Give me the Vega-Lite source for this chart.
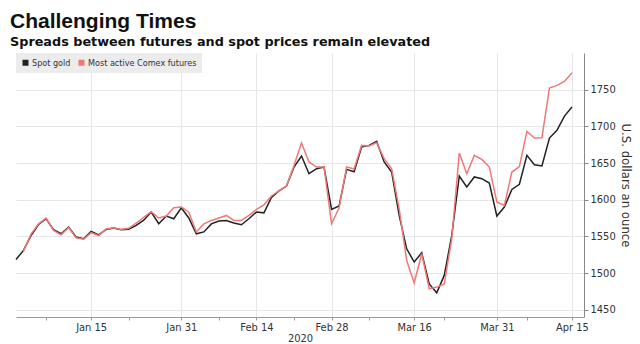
{
  "$schema": "https://vega.github.io/schema/vega-lite/v6.json",
  "width": 568,
  "height": 264,
  "autosize": {"type": "none"},
  "padding": {"left": 16, "top": 53, "right": 56, "bottom": 27},
  "background": "white",
  "config": {
    "view": {"stroke": null},
    "font": "DejaVu Sans Condensed",
    "axis": {"labelFont": "DejaVu Sans Condensed", "titleFont": "DejaVu Sans Condensed"}
  },
  "title": {
    "text": "Challenging Times",
    "subtitle": "Spreads between futures and spot prices remain elevated",
    "anchor": "start",
    "dx": -3,
    "offset": 4,
    "font": "Liberation Sans",
    "fontSize": 21,
    "fontWeight": "bold",
    "color": "#111111",
    "subtitleFont": "DejaVu Sans",
    "subtitleFontSize": 12.8,
    "subtitleFontWeight": "bold",
    "subtitleColor": "#111111",
    "subtitlePadding": 4
  },
  "data": {
    "values": [
      {"date": "2020-01-01", "series": "Spot gold", "price": 1518.5},
      {"date": "2020-01-02", "series": "Spot gold", "price": 1530.8},
      {"date": "2020-01-03", "series": "Spot gold", "price": 1551.2},
      {"date": "2020-01-06", "series": "Spot gold", "price": 1566.2},
      {"date": "2020-01-07", "series": "Spot gold", "price": 1574},
      {"date": "2020-01-08", "series": "Spot gold", "price": 1559},
      {"date": "2020-01-09", "series": "Spot gold", "price": 1553.5},
      {"date": "2020-01-10", "series": "Spot gold", "price": 1562.7},
      {"date": "2020-01-13", "series": "Spot gold", "price": 1549},
      {"date": "2020-01-14", "series": "Spot gold", "price": 1546.7},
      {"date": "2020-01-15", "series": "Spot gold", "price": 1556.7},
      {"date": "2020-01-16", "series": "Spot gold", "price": 1552},
      {"date": "2020-01-17", "series": "Spot gold", "price": 1559.4},
      {"date": "2020-01-20", "series": "Spot gold", "price": 1561.3},
      {"date": "2020-01-21", "series": "Spot gold", "price": 1559},
      {"date": "2020-01-22", "series": "Spot gold", "price": 1559.7},
      {"date": "2020-01-23", "series": "Spot gold", "price": 1565},
      {"date": "2020-01-24", "series": "Spot gold", "price": 1572},
      {"date": "2020-01-27", "series": "Spot gold", "price": 1583.2},
      {"date": "2020-01-28", "series": "Spot gold", "price": 1567.2},
      {"date": "2020-01-29", "series": "Spot gold", "price": 1577.7},
      {"date": "2020-01-30", "series": "Spot gold", "price": 1574},
      {"date": "2020-01-31", "series": "Spot gold", "price": 1589},
      {"date": "2020-02-03", "series": "Spot gold", "price": 1575},
      {"date": "2020-02-04", "series": "Spot gold", "price": 1553.5},
      {"date": "2020-02-05", "series": "Spot gold", "price": 1556},
      {"date": "2020-02-06", "series": "Spot gold", "price": 1567},
      {"date": "2020-02-07", "series": "Spot gold", "price": 1571},
      {"date": "2020-02-10", "series": "Spot gold", "price": 1571.7},
      {"date": "2020-02-11", "series": "Spot gold", "price": 1568.2},
      {"date": "2020-02-12", "series": "Spot gold", "price": 1565.8},
      {"date": "2020-02-13", "series": "Spot gold", "price": 1574},
      {"date": "2020-02-14", "series": "Spot gold", "price": 1583.2},
      {"date": "2020-02-17", "series": "Spot gold", "price": 1582},
      {"date": "2020-02-18", "series": "Spot gold", "price": 1603},
      {"date": "2020-02-19", "series": "Spot gold", "price": 1612},
      {"date": "2020-02-20", "series": "Spot gold", "price": 1618.6},
      {"date": "2020-02-21", "series": "Spot gold", "price": 1644.5},
      {"date": "2020-02-24", "series": "Spot gold", "price": 1659.5},
      {"date": "2020-02-25", "series": "Spot gold", "price": 1635.4},
      {"date": "2020-02-26", "series": "Spot gold", "price": 1642.2},
      {"date": "2020-02-27", "series": "Spot gold", "price": 1644.5},
      {"date": "2020-02-28", "series": "Spot gold", "price": 1586.7},
      {"date": "2020-03-02", "series": "Spot gold", "price": 1591.3},
      {"date": "2020-03-03", "series": "Spot gold", "price": 1641.3},
      {"date": "2020-03-04", "series": "Spot gold", "price": 1638},
      {"date": "2020-03-05", "series": "Spot gold", "price": 1671.8},
      {"date": "2020-03-06", "series": "Spot gold", "price": 1674},
      {"date": "2020-03-09", "series": "Spot gold", "price": 1679.5},
      {"date": "2020-03-10", "series": "Spot gold", "price": 1651.4},
      {"date": "2020-03-11", "series": "Spot gold", "price": 1637.7},
      {"date": "2020-03-12", "series": "Spot gold", "price": 1578.5},
      {"date": "2020-03-13", "series": "Spot gold", "price": 1533},
      {"date": "2020-03-16", "series": "Spot gold", "price": 1515},
      {"date": "2020-03-17", "series": "Spot gold", "price": 1527.6},
      {"date": "2020-03-18", "series": "Spot gold", "price": 1485},
      {"date": "2020-03-19", "series": "Spot gold", "price": 1473},
      {"date": "2020-03-20", "series": "Spot gold", "price": 1496.7},
      {"date": "2020-03-23", "series": "Spot gold", "price": 1551.2},
      {"date": "2020-03-24", "series": "Spot gold", "price": 1632.3},
      {"date": "2020-03-25", "series": "Spot gold", "price": 1617.3},
      {"date": "2020-03-26", "series": "Spot gold", "price": 1631},
      {"date": "2020-03-27", "series": "Spot gold", "price": 1628.6},
      {"date": "2020-03-30", "series": "Spot gold", "price": 1622.7},
      {"date": "2020-03-31", "series": "Spot gold", "price": 1577.7},
      {"date": "2020-04-01", "series": "Spot gold", "price": 1590},
      {"date": "2020-04-02", "series": "Spot gold", "price": 1614},
      {"date": "2020-04-03", "series": "Spot gold", "price": 1621},
      {"date": "2020-04-06", "series": "Spot gold", "price": 1660.4},
      {"date": "2020-04-07", "series": "Spot gold", "price": 1647.7},
      {"date": "2020-04-08", "series": "Spot gold", "price": 1646},
      {"date": "2020-04-09", "series": "Spot gold", "price": 1684},
      {"date": "2020-04-13", "series": "Spot gold", "price": 1694.5},
      {"date": "2020-04-14", "series": "Spot gold", "price": 1714},
      {"date": "2020-04-15", "series": "Spot gold", "price": 1726.4},
      {"date": "2020-01-02", "series": "Most active Comex futures", "price": 1530},
      {"date": "2020-01-03", "series": "Most active Comex futures", "price": 1553},
      {"date": "2020-01-06", "series": "Most active Comex futures", "price": 1567},
      {"date": "2020-01-07", "series": "Most active Comex futures", "price": 1575},
      {"date": "2020-01-08", "series": "Most active Comex futures", "price": 1558},
      {"date": "2020-01-09", "series": "Most active Comex futures", "price": 1552},
      {"date": "2020-01-10", "series": "Most active Comex futures", "price": 1562},
      {"date": "2020-01-13", "series": "Most active Comex futures", "price": 1548},
      {"date": "2020-01-14", "series": "Most active Comex futures", "price": 1546},
      {"date": "2020-01-15", "series": "Most active Comex futures", "price": 1555},
      {"date": "2020-01-16", "series": "Most active Comex futures", "price": 1551},
      {"date": "2020-01-17", "series": "Most active Comex futures", "price": 1560},
      {"date": "2020-01-20", "series": "Most active Comex futures", "price": 1561.7},
      {"date": "2020-01-21", "series": "Most active Comex futures", "price": 1559.5},
      {"date": "2020-01-22", "series": "Most active Comex futures", "price": 1561},
      {"date": "2020-01-23", "series": "Most active Comex futures", "price": 1568},
      {"date": "2020-01-24", "series": "Most active Comex futures", "price": 1576},
      {"date": "2020-01-27", "series": "Most active Comex futures", "price": 1583.5},
      {"date": "2020-01-28", "series": "Most active Comex futures", "price": 1575},
      {"date": "2020-01-29", "series": "Most active Comex futures", "price": 1577.7},
      {"date": "2020-01-30", "series": "Most active Comex futures", "price": 1589},
      {"date": "2020-01-31", "series": "Most active Comex futures", "price": 1590},
      {"date": "2020-02-03", "series": "Most active Comex futures", "price": 1583},
      {"date": "2020-02-04", "series": "Most active Comex futures", "price": 1556},
      {"date": "2020-02-05", "series": "Most active Comex futures", "price": 1567},
      {"date": "2020-02-06", "series": "Most active Comex futures", "price": 1571.7},
      {"date": "2020-02-07", "series": "Most active Comex futures", "price": 1575},
      {"date": "2020-02-10", "series": "Most active Comex futures", "price": 1578.5},
      {"date": "2020-02-11", "series": "Most active Comex futures", "price": 1571.7},
      {"date": "2020-02-12", "series": "Most active Comex futures", "price": 1571.7},
      {"date": "2020-02-13", "series": "Most active Comex futures", "price": 1578.5},
      {"date": "2020-02-14", "series": "Most active Comex futures", "price": 1586.7},
      {"date": "2020-02-17", "series": "Most active Comex futures", "price": 1593},
      {"date": "2020-02-18", "series": "Most active Comex futures", "price": 1605},
      {"date": "2020-02-19", "series": "Most active Comex futures", "price": 1612},
      {"date": "2020-02-20", "series": "Most active Comex futures", "price": 1618.6},
      {"date": "2020-02-21", "series": "Most active Comex futures", "price": 1646.7},
      {"date": "2020-02-24", "series": "Most active Comex futures", "price": 1677.3},
      {"date": "2020-02-25", "series": "Most active Comex futures", "price": 1651.4},
      {"date": "2020-02-26", "series": "Most active Comex futures", "price": 1644.5},
      {"date": "2020-02-27", "series": "Most active Comex futures", "price": 1644.5},
      {"date": "2020-02-28", "series": "Most active Comex futures", "price": 1567.2},
      {"date": "2020-03-02", "series": "Most active Comex futures", "price": 1588.6},
      {"date": "2020-03-03", "series": "Most active Comex futures", "price": 1644.5},
      {"date": "2020-03-04", "series": "Most active Comex futures", "price": 1642},
      {"date": "2020-03-05", "series": "Most active Comex futures", "price": 1674},
      {"date": "2020-03-06", "series": "Most active Comex futures", "price": 1673.2},
      {"date": "2020-03-09", "series": "Most active Comex futures", "price": 1677.7},
      {"date": "2020-03-10", "series": "Most active Comex futures", "price": 1655.9},
      {"date": "2020-03-11", "series": "Most active Comex futures", "price": 1642.2},
      {"date": "2020-03-12", "series": "Most active Comex futures", "price": 1587.6},
      {"date": "2020-03-13", "series": "Most active Comex futures", "price": 1517},
      {"date": "2020-03-16", "series": "Most active Comex futures", "price": 1486.7},
      {"date": "2020-03-17", "series": "Most active Comex futures", "price": 1526.3},
      {"date": "2020-03-18", "series": "Most active Comex futures", "price": 1478.5},
      {"date": "2020-03-19", "series": "Most active Comex futures", "price": 1480.8},
      {"date": "2020-03-20", "series": "Most active Comex futures", "price": 1485},
      {"date": "2020-03-23", "series": "Most active Comex futures", "price": 1546.7},
      {"date": "2020-03-24", "series": "Most active Comex futures", "price": 1663.6},
      {"date": "2020-03-25", "series": "Most active Comex futures", "price": 1635.4},
      {"date": "2020-03-26", "series": "Most active Comex futures", "price": 1660.4},
      {"date": "2020-03-27", "series": "Most active Comex futures", "price": 1654.9},
      {"date": "2020-03-30", "series": "Most active Comex futures", "price": 1644.5},
      {"date": "2020-03-31", "series": "Most active Comex futures", "price": 1596.8},
      {"date": "2020-04-01", "series": "Most active Comex futures", "price": 1592.2},
      {"date": "2020-04-02", "series": "Most active Comex futures", "price": 1637.7},
      {"date": "2020-04-03", "series": "Most active Comex futures", "price": 1645},
      {"date": "2020-04-06", "series": "Most active Comex futures", "price": 1693},
      {"date": "2020-04-07", "series": "Most active Comex futures", "price": 1684},
      {"date": "2020-04-08", "series": "Most active Comex futures", "price": 1684.5},
      {"date": "2020-04-09", "series": "Most active Comex futures", "price": 1752.3},
      {"date": "2020-04-13", "series": "Most active Comex futures", "price": 1755.9},
      {"date": "2020-04-14", "series": "Most active Comex futures", "price": 1761.3},
      {"date": "2020-04-15", "series": "Most active Comex futures", "price": 1773}
    ]
  },
  "mark": {"type": "line", "strokeWidth": 1.5, "interpolate": "linear"},
  "encoding": {
    "x": {
      "field": "date",
      "type": "ordinal",
      "scale": {"type": "point", "padding": 0.8, "align": 0},
      "axis": {
        "values": ["2020-01-07", "2020-01-15", "2020-01-22", "2020-01-31", "2020-02-07", "2020-02-14", "2020-02-21", "2020-02-28", "2020-03-06", "2020-03-16", "2020-03-20", "2020-03-31", "2020-04-06", "2020-04-15"],
        "labelExpr": "indexof(['2020-01-15','2020-01-31','2020-02-14','2020-02-28','2020-03-16','2020-03-31','2020-04-15'], datum.value) >= 0 ? utcFormat(toDate(datum.value), '%b %d') : ''",
        "labelAngle": 0,
        "labelFontSize": 11,
        "labelColor": "#333333",
        "labelPadding": 1,
        "grid": true,
        "gridColor": "#e6e6e6",
        "gridOpacity": {"condition": {"test": "indexof(['2020-01-15','2020-01-31','2020-02-14','2020-02-28','2020-03-16','2020-03-31','2020-04-15'], datum.value) >= 0", "value": 1}, "value": 0},
        "domainColor": "#999999",
        "tickColor": "#999999",
        "tickSize": 3,
        "title": "2020",
        "titleFontSize": 11,
        "titleFontWeight": "normal",
        "titleColor": "#333333",
        "titlePadding": 0
      }
    },
    "y": {
      "field": "price",
      "type": "quantitative",
      "scale": {"domain": [1440, 1800], "nice": false, "zero": false},
      "axis": {
        "orient": "right",
        "values": [1450, 1500, 1550, 1600, 1650, 1700, 1750],
        "format": "d",
        "labelFontSize": 11,
        "labelColor": "#333333",
        "labelPadding": 2,
        "gridColor": "#e6e6e6",
        "domainColor": "#888888",
        "tickColor": "#888888",
        "tickSize": 4,
        "title": "U.S. dollars an ounce",
        "titleFontSize": 13,
        "titleFontWeight": "normal",
        "titleColor": "#333333",
        "titlePadding": 3
      }
    },
    "color": {
      "field": "series",
      "type": "nominal",
      "scale": {"domain": ["Spot gold", "Most active Comex futures"], "range": ["#222222", "#f07878"]},
      "legend": {
        "title": null,
        "orient": "top-left",
        "direction": "horizontal",
        "offset": 0,
        "padding": 5,
        "fillColor": "#ececec",
        "symbolType": "square",
        "symbolSize": 36,
        "symbolStrokeWidth": 0,
        "labelFontSize": 9,
        "labelFont": "DejaVu Sans Condensed",
        "labelColor": "#333333",
        "labelOffset": 2,
        "columnPadding": 6,
        "encode": {
          "symbols": {"update": {"fill": {"scale": "color", "field": "value"}, "fillOpacity": {"value": 1}}}
        }
      }
    }
  }
}
